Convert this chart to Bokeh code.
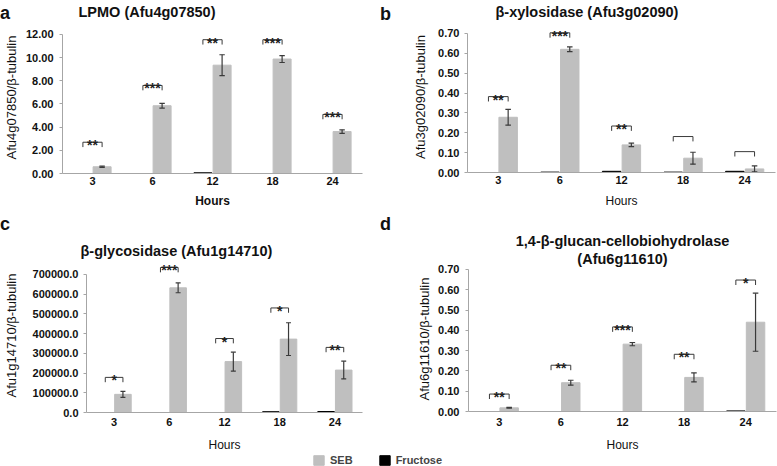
from bokeh.plotting import figure
from bokeh.models import (ColumnDataSource, Range1d, FixedTicker, NumeralTickFormatter,
                          Legend, LegendItem, Div, Title)
from bokeh.transform import dodge
from bokeh.layouts import column, row
from bokeh.embed import file_html
from bokeh.resources import INLINE
from bokeh.core.properties import value

hours = ["3", "6", "12", "18", "24"]

# a - LPMO
seb_a = [0.58, 5.85, 9.35, 9.88, 3.62]
seb_err_a = [0.05, 0.20, 0.90, 0.30, 0.15]
fru_a = [0.0, 0.0, 0.06, 0.0, 0.0]
stars_a = ["**", "***", "**", "***", "***"]
bracket_a = [2.70, 7.60, 11.55, 11.55, 5.10]

# b - beta-xylosidase
seb_b = [0.278, 0.620, 0.139, 0.072, 0.018]
seb_err_b = [0.040, 0.012, 0.009, 0.030, 0.015]
fru_b = [0.0, 0.002, 0.006, 0.002, 0.006]
stars_b = ["**", "***", "**", "", ""]
bracket_b = [0.382, 0.703, 0.234, 0.181, 0.105]

# c - beta-glycosidase
seb_c = [92000, 632000, 258000, 372000, 215000]
seb_err_c = [15000, 25000, 48000, 83000, 45000]
fru_c = [0, 0, 0, 4000, 5000]
stars_c = ["*", "***", "*", "*", "**"]
bracket_c = [178000, 735000, 375000, 530000, 330000]

# d - cellobiohydrolase
seb_d = [0.018, 0.142, 0.332, 0.168, 0.440]
seb_err_d = [0.002, 0.012, 0.008, 0.022, 0.143]
fru_d = [0.0, 0.0, 0.0, 0.0, 0.003]
stars_d = ["**", "**", "***", "**", "*"]
bracket_d = [0.086, 0.228, 0.417, 0.282, 0.648]

FONT = "Liberation Sans"
SEB_COLOR = "#bfbfbf"
FRU_COLOR = "#000000"
DARK = "#3a3a3a"
AXIS = "#a6a6a6"
OFF = 0.16


def style_title(t):
    t.text_font = FONT
    t.text_font_size = "14.5px"
    t.text_font_style = "bold"
    t.text_color = "#111111"


def panel(seb, err, fru, stars, brackets, title, ylabel, top_tick, step, fmt, y_end,
          width, height, borders, title_offset, title_standoff, tick_standoff,
          label_standoff, xtick_standoff, hours_standoff, bold_xlabel=False):
    left, right, top, bottom = borders
    p = figure(x_range=hours, y_range=Range1d(0, y_end), width=width, height=height,
               toolbar_location=None, output_backend="svg", frame_align=False,
               min_border_left=left, min_border_right=right,
               min_border_top=top, min_border_bottom=bottom)
    src = ColumnDataSource(dict(
        hours=hours, seb=seb, fru=fru, stars=stars, br=brackets,
        hi=[v + e for v, e in zip(seb, err)], lo=[v - e for v, e in zip(seb, err)],
        leg=[b - top_tick * 0.035 for b in brackets],
    ))
    p.vbar(x=dodge("hours", -OFF, range=p.x_range), top="fru", width=0.3,
           source=src, color=FRU_COLOR)
    p.vbar(x=dodge("hours", OFF, range=p.x_range), top="seb", width=0.3,
           source=src, color=SEB_COLOR)

    # error bars
    p.segment(x0=dodge("hours", OFF, range=p.x_range), x1=dodge("hours", OFF, range=p.x_range),
              y0="lo", y1="hi", source=src, line_color=DARK, line_width=1.2)
    for yy in ["lo", "hi"]:
        p.segment(x0=dodge("hours", OFF - 0.045, range=p.x_range),
                  x1=dodge("hours", OFF + 0.045, range=p.x_range),
                  y0=yy, y1=yy, source=src, line_color=DARK, line_width=1.2)

    # significance brackets
    p.segment(x0=dodge("hours", -OFF, range=p.x_range), x1=dodge("hours", OFF, range=p.x_range),
              y0="br", y1="br", source=src, line_color=DARK, line_width=1)
    for d in [-OFF, OFF]:
        p.segment(x0=dodge("hours", d, range=p.x_range), x1=dodge("hours", d, range=p.x_range),
                  y0="br", y1="leg", source=src, line_color=DARK, line_width=1)
    p.text(x="hours", y="br", text="stars", source=src, text_align="center",
           text_baseline="alphabetic", y_offset=3, text_font=value(FONT),
           text_font_style="bold", text_font_size="14px", text_color="#222222")

    p.title.text = title
    p.title.align = "left"
    p.title.offset = title_offset
    p.title.standoff = title_standoff
    style_title(p.title)

    p.xgrid.visible = False
    p.ygrid.visible = False
    p.outline_line_color = None

    p.yaxis.ticker = FixedTicker(ticks=[i * step for i in range(int(round(top_tick / step)) + 1)])
    p.yaxis.formatter = NumeralTickFormatter(format=fmt)
    p.yaxis.bounds = (0, top_tick)
    p.yaxis.axis_label = ylabel
    p.yaxis.axis_label_text_font_style = "normal"
    p.yaxis.axis_label_text_font_size = "13px"
    p.yaxis.axis_label_standoff = label_standoff
    p.yaxis.minor_tick_line_color = None
    p.yaxis.major_tick_in = 0
    p.yaxis.major_tick_out = 3
    p.yaxis.major_label_standoff = tick_standoff

    p.xaxis.axis_label = "Hours"
    p.xaxis.axis_label_text_font_style = "bold" if bold_xlabel else "normal"
    p.xaxis.axis_label_text_font_size = "12px"
    p.xaxis.axis_label_standoff = hours_standoff
    p.xaxis.major_label_standoff = xtick_standoff
    p.xaxis.major_tick_in = 0
    p.xaxis.major_tick_out = 0

    for ax in [p.xaxis, p.yaxis]:
        ax.axis_line_color = AXIS
        ax.major_label_text_font = FONT
        ax.major_label_text_font_size = "11px"
        ax.major_label_text_font_style = "bold"
        ax.major_label_text_color = "#111111"
        ax.axis_label_text_font = FONT
        ax.axis_label_text_color = "#111111"
    p.yaxis.major_tick_line_color = AXIS
    p.xaxis.major_tick_line_color = None
    return p


def letter(txt, left, top):
    return Div(text=txt, width=14, height=20, margin=0,
               styles={"position": "absolute", "left": f"{left}px", "top": f"{top}px",
                       "font-family": FONT, "font-size": "18px", "font-weight": "bold",
                       "line-height": "1", "color": "#111111", "z-index": "10"})


pa = panel(seb_a, seb_err_a, fru_a, stars_a, bracket_a, "LPMO (Afu4g07850)",
           "Afu4g07850/β-tubulin", 12, 2, "0.00", 13.12, 385, 210, (62, 23, 21, 37), 16, 3,
           6, 4, 3, 6, bold_xlabel=True)
pb = panel(seb_b, seb_err_b, fru_b, stars_b, bracket_b, "β-xylosidase (Afu3g02090)",
           "Afu3g02090/β-tubulin", 0.7, 0.1, "0.00", 0.76, 392, 210, (82, 2, 21, 37), 28, 3,
           5, 7, 3, 7)
pc = panel(seb_c, seb_err_c, fru_c, stars_c, bracket_c, "β-glycosidase (Afu1g14710)",
           "Afu1g14710/β-tubulin", 700000, 100000, "0.0", 780600, 385, 244, (81, 23, 48, 41), -6, 0,
           5, 11, 5, 9)
pd = panel(seb_d, seb_err_d, fru_d, stars_d, bracket_d, "1,4-β-glucan-cellobiohydrolase",
           "Afu6g11610/β-tubulin", 0.7, 0.1, "0.00", 0.7147, 392, 244, (83, 1, 56, 42), -5, 0,
           6, 3, 6, 9)
pd.title.align = "center"
t_sub = Title(text="(Afu6g11610)", align="center", standoff=0, offset=-5)
style_title(t_sub)
pd.add_layout(t_sub, "above")

# legend strip
pl = figure(width=777, height=12, x_range=Range1d(0, 1), y_range=Range1d(0, 1),
            toolbar_location=None, output_backend="svg", min_border=0)
pl.axis.visible = False
pl.grid.visible = False
pl.outline_line_color = None
r_seb = pl.vbar(x=[10], top=[1], width=0.1, color=SEB_COLOR)
r_fru = pl.vbar(x=[10], top=[1], width=0.1, color=FRU_COLOR)
leg = Legend(items=[LegendItem(label="SEB", renderers=[r_seb]),
                    LegendItem(label="Fructose", renderers=[r_fru])],
             orientation="horizontal", location=(312, 0), border_line_color=None,
             background_fill_alpha=0, padding=0, margin=0, spacing=25,
             glyph_width=13, glyph_height=12, label_standoff=5,
             label_text_font=FONT, label_text_font_size="11px",
             label_text_font_style="bold", label_height=12)
pl.add_layout(leg)

layout = column(letter("a", 0, 4), letter("b", 380, 5), letter("c", 0, 215), letter("d", 380, 215),
                row(pa, pb), row(pc, pd), pl)
open("out.html", "w").write(file_html(layout, INLINE))
